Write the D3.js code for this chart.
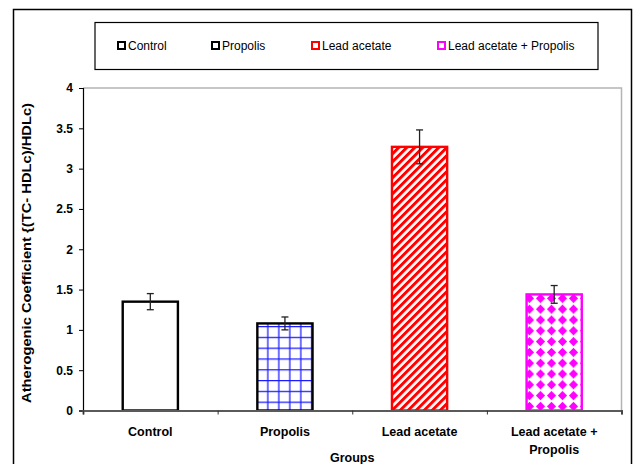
<!DOCTYPE html>
<html>
<head>
<meta charset="utf-8">
<script src="https://cdn.jsdelivr.net/npm/d3@7"></script>
<style>
  html, body { margin: 0; padding: 0; background: #fff; }
  svg { display: block; }
  text { font-family: Arial, "Liberation Sans", sans-serif; }
</style>
</head>
<body>
<svg id="chart" width="637" height="464"></svg>
<script>
// Atherogenic coefficient per experimental group (mean ± SE)
const groups = ["Control", "Propolis", "Lead acetate", "Lead acetate + Propolis"];
const xLabelLines = [["Control"], ["Propolis"], ["Lead acetate"], ["Lead acetate +", "Propolis"]];
const means = [1.35, 1.08, 3.27, 1.44];
const errors = [0.10, 0.08, 0.21, 0.11];
const yTicks = [0, 0.5, 1, 1.5, 2, 2.5, 3, 3.5, 4];
const barFills = ["white", "url(#grid)", "url(#stripes)", "url(#diamonds)"];
const barStrokes = ["#000", "#000", "#ff0000", "#ff00ff"];
const legendMarkerStrokes = ["#000", "#000", "#ff0000", "#ff00ff"];

const svg = d3.select("#chart");
const plot = { left: 83, right: 621.5, top: 88, bottom: 410.5 };

// --- fill patterns ---
const defs = svg.append("defs");
const grid = defs.append("pattern").attr("id", "grid")
  .attr("patternUnits", "userSpaceOnUse").attr("width", 11).attr("height", 10.8)
  .attr("x", 257.5).attr("y", 326);
grid.append("rect").attr("width", 11).attr("height", 10.8).attr("fill", "#fff");
grid.append("line").attr("x1", 10.5).attr("x2", 10.5).attr("y1", 0).attr("y2", 10.8)
  .attr("stroke", "#1a1aff").attr("stroke-width", 1.5);
grid.append("line").attr("x1", 0).attr("x2", 11).attr("y1", 0.5).attr("y2", 0.5)
  .attr("stroke", "#1a1aff").attr("stroke-width", 1.5);

const stripes = defs.append("pattern").attr("id", "stripes")
  .attr("patternUnits", "userSpaceOnUse").attr("width", 5.66).attr("height", 10)
  .attr("patternTransform", "rotate(45)");
stripes.append("rect").attr("width", 5.66).attr("height", 10).attr("fill", "#fff");
stripes.append("rect").attr("width", 3).attr("height", 10).attr("fill", "#ff0000");

const diamonds = defs.append("pattern").attr("id", "diamonds")
  .attr("patternUnits", "userSpaceOnUse").attr("width", 11).attr("height", 10.8)
  .attr("x", 392).attr("y", 293);
diamonds.append("rect").attr("width", 11).attr("height", 10.8).attr("fill", "#fff");
diamonds.append("path").attr("d", "M5.5,0.8 L10.1,5.4 L5.5,10 L0.9,5.4 Z").attr("fill", "#ff00ff");

// --- outer frame and legend box ---
svg.append("rect").attr("x", 13.5).attr("y", 9.5).attr("width", 618).attr("height", 470)
  .attr("fill", "none").attr("stroke", "#000").attr("stroke-width", 1.5);

svg.append("rect").attr("x", 95).attr("y", 22.5).attr("width", 503).attr("height", 47)
  .attr("fill", "#fff").attr("stroke", "#000").attr("stroke-width", 1.2);

const legendX = [117, 211, 311, 437];
const legend = svg.append("g");
groups.forEach((g, i) => {
  legend.append("rect").attr("x", legendX[i] + 1).attr("y", 42).attr("width", 7).attr("height", 7)
    .attr("fill", "#fff").attr("stroke", legendMarkerStrokes[i]).attr("stroke-width", 2);
  legend.append("text").attr("x", legendX[i] + 11).attr("y", 50)
    .attr("font-size", 12).attr("fill", "#000").text(g);
});

// --- scales ---
const x = d3.scaleBand().domain(groups).range([plot.left, plot.right])
  .paddingInner(0.59).paddingOuter(0.295);
const xEdge = d3.scaleLinear().domain([0, groups.length]).range([plot.left, plot.right]);
const y = d3.scaleLinear().domain([0, 4]).range([plot.bottom, plot.top]);

// plot area border (top and right)
svg.append("path")
  .attr("d", `M${plot.left},${plot.top} H${plot.right} V${plot.bottom}`)
  .attr("fill", "none").attr("stroke", "#b4b4b4").attr("stroke-width", 1.5);

// --- bars ---
svg.append("g").selectAll("rect").data(groups).join("rect")
  .attr("x", d => x(d))
  .attr("y", (d, i) => y(means[i]))
  .attr("width", x.bandwidth())
  .attr("height", (d, i) => y(0) - y(means[i]))
  .attr("fill", (d, i) => barFills[i])
  .attr("stroke", (d, i) => barStrokes[i])
  .attr("stroke-width", 2.4);

// --- error bars ---
const eb = svg.append("g").attr("stroke", "#222").attr("stroke-width", 1.3);
groups.forEach((g, i) => {
  const cx = x(g) + x.bandwidth() / 2;
  const hi = y(means[i] + errors[i]), lo = y(means[i] - errors[i]);
  eb.append("line").attr("x1", cx).attr("x2", cx).attr("y1", hi).attr("y2", lo);
  eb.append("line").attr("x1", cx - 3.5).attr("x2", cx + 3.5).attr("y1", hi).attr("y2", hi);
  eb.append("line").attr("x1", cx - 3.5).attr("x2", cx + 3.5).attr("y1", lo).attr("y2", lo);
});

// --- y axis ---
const yAxis = svg.append("g").attr("transform", `translate(${plot.left},0)`)
  .call(d3.axisLeft(y).tickValues(yTicks).tickSize(4).tickPadding(6).tickFormat(d => String(d)));
yAxis.select(".domain").attr("stroke", "#000").attr("stroke-width", 1.2);
yAxis.selectAll(".tick line").attr("stroke", "#000");
yAxis.selectAll(".tick text").attr("font-size", 12).attr("font-weight", "bold")
  .attr("font-family", "Arial, 'Liberation Sans', sans-serif").attr("fill", "#000");

// --- x axis ---
const xAxis = svg.append("g").attr("transform", `translate(0,${plot.bottom})`)
  .call(d3.axisBottom(xEdge).tickValues(d3.range(groups.length + 1)).tickSize(4).tickFormat(""));
xAxis.select(".domain").attr("stroke", "#5a5a5a").attr("stroke-width", 2);
xAxis.selectAll(".tick line").attr("stroke", "#333");

const xl = svg.append("g");
groups.forEach((g, i) => {
  const cx = x(g) + x.bandwidth() / 2;
  const t = xl.append("text").attr("x", cx).attr("y", 436)
    .attr("text-anchor", "middle").attr("font-size", 12.5).attr("font-weight", "bold").attr("fill", "#000");
  xLabelLines[i].forEach((line, j) => {
    t.append("tspan").attr("x", cx).attr("dy", j === 0 ? 0 : 17.5).text(line);
  });
});

// axis titles
svg.append("text").attr("x", (plot.left + plot.right) / 2).attr("y", 461.5)
  .attr("text-anchor", "middle").attr("font-size", 12.5).attr("font-weight", "bold").text("Groups");

svg.append("text")
  .attr("transform", `translate(30.5,${(100 + 406) / 2}) rotate(-90)`)
  .attr("text-anchor", "middle").attr("font-size", 13).attr("font-weight", "bold")
  .attr("textLength", 300).attr("lengthAdjust", "spacingAndGlyphs")
  .text("Atherogenic Coefficient {(TC- HDLc)/HDLc)");
</script>
</body>
</html>
